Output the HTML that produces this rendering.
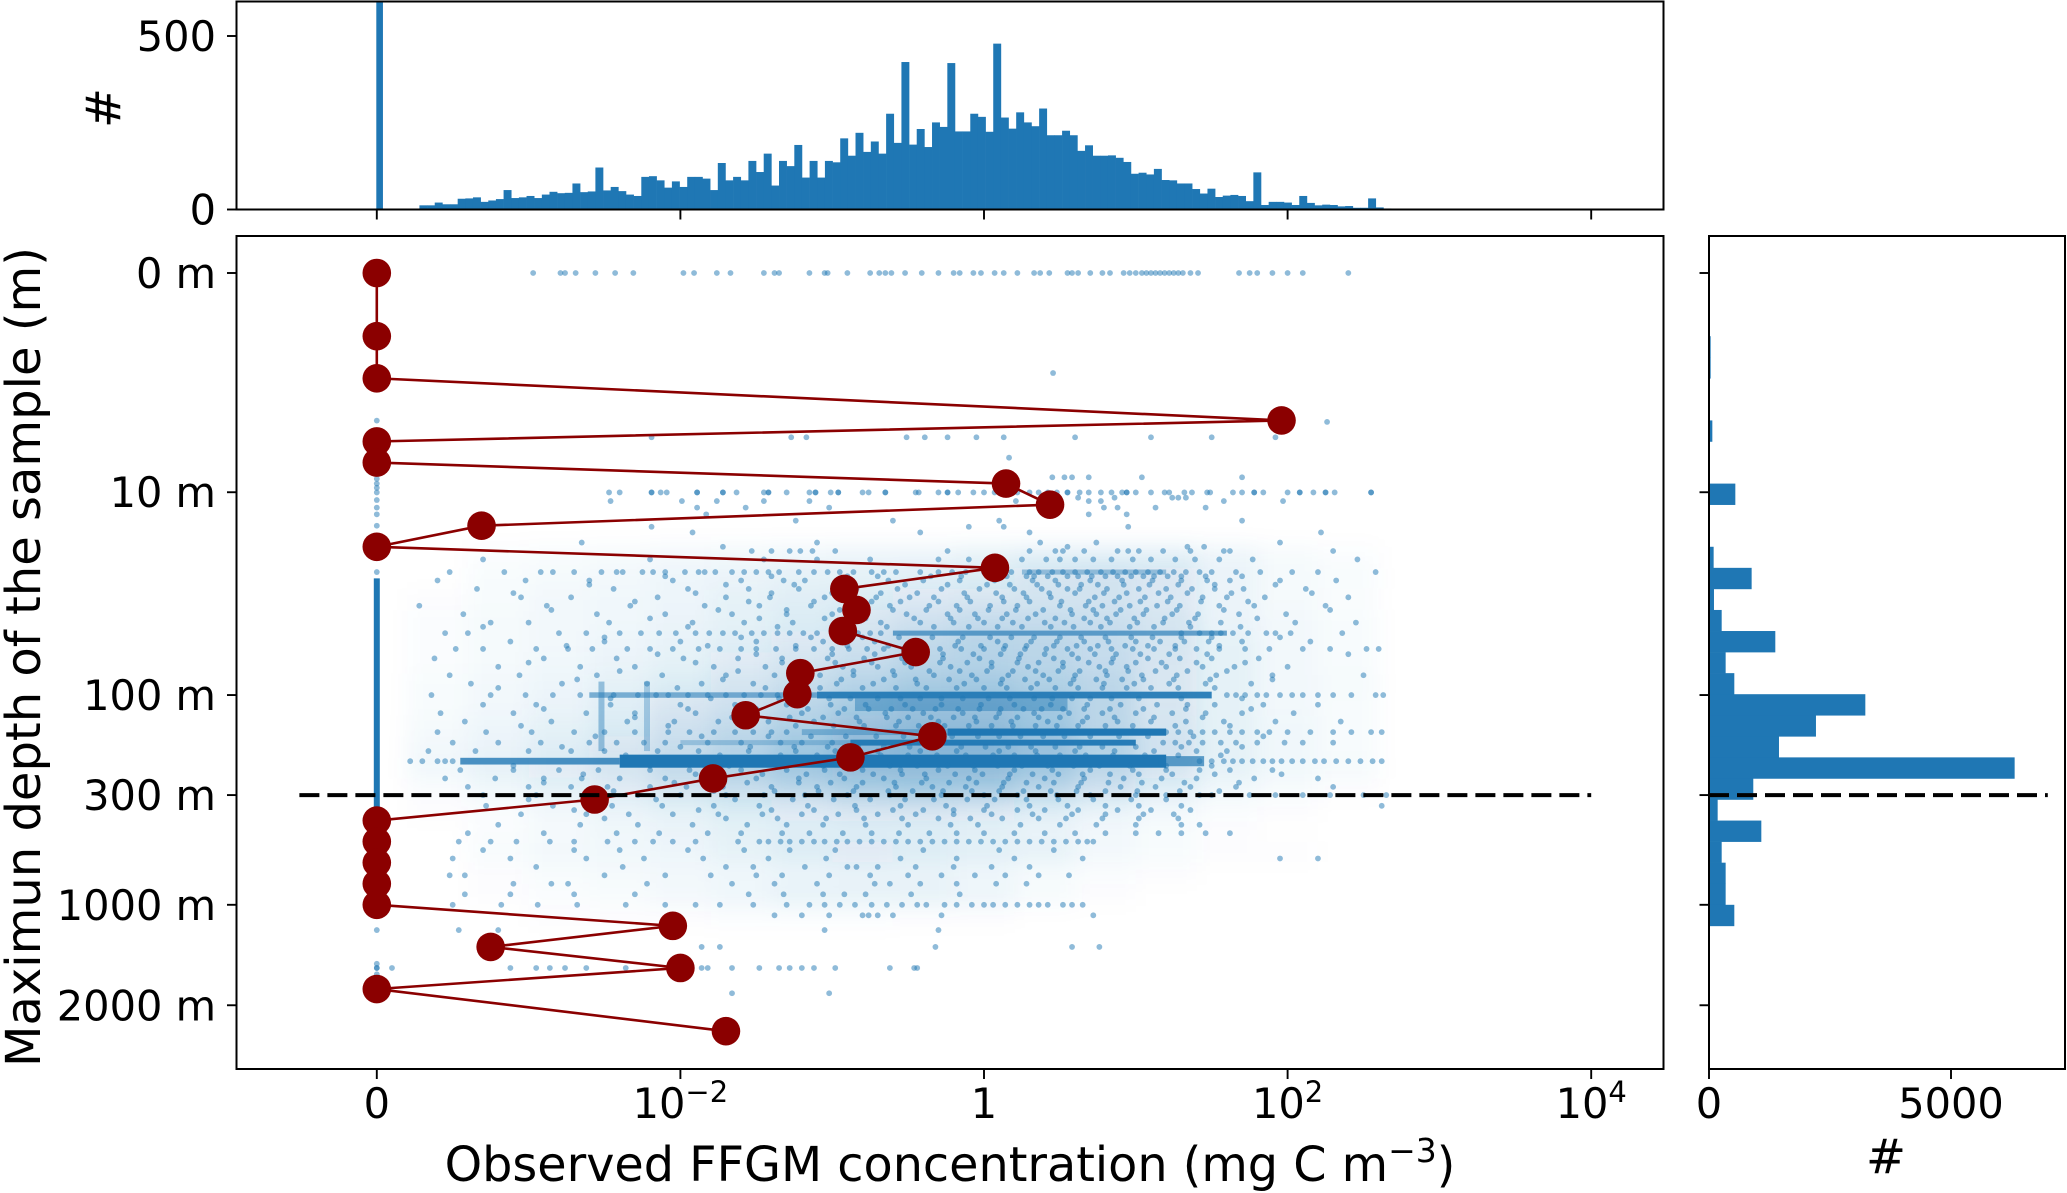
<!DOCTYPE html>
<html lang="en">
<head>
<meta charset="utf-8">
<title>Observed FFGM concentration versus depth</title>
<style>
html,body{margin:0;padding:0;background:#fff;width:2067px;height:1193px;overflow:hidden}
svg{display:block}
text{font-family:"DejaVu Sans","Liberation Sans",sans-serif;fill:#000}
</style>
</head>
<body>
<svg id="chart" xmlns="http://www.w3.org/2000/svg" width="2067" height="1193" viewBox="0 0 2067 1193">
  <defs>
    <clipPath id="clip-top"><rect x="236.5" y="1.5" width="1427" height="208"/></clipPath>
    <clipPath id="clip-main"><rect x="236.5" y="236" width="1427" height="833"/></clipPath>
    <clipPath id="clip-right"><rect x="1709" y="236" width="356" height="833"/></clipPath>
    <filter id="soft" x="-5%" y="-5%" width="110%" height="110%"><feGaussianBlur stdDeviation="11"/></filter>
  </defs>
  <g id="top-bars" clip-path="url(#clip-top)"></g>
  <g clip-path="url(#clip-main)">
    <g id="main-density" filter="url(#soft)"></g>
  </g>
  <g id="main-runs" clip-path="url(#clip-main)"></g>
  <g id="main-dots" clip-path="url(#clip-main)"></g>
  <g id="profile" clip-path="url(#clip-main)"></g>
  <g id="right-bars" clip-path="url(#clip-right)"></g>
  <g id="refs"></g>
  <g id="frames" fill="none" stroke="#000" stroke-width="2">
    <rect x="236.5" y="1.5" width="1427" height="208"/>
    <rect x="236.5" y="236" width="1427" height="833"/>
    <rect x="1709" y="236" width="356" height="833"/>
  </g>
  <g id="ticks" stroke="#000" stroke-width="1.9"></g>
  <g id="tick-labels" font-size="41.5"></g>
  <text x="950" y="1181" font-size="47.7" text-anchor="middle">Observed FFGM concentration (mg C m<tspan dy="-19" font-size="33">−3</tspan><tspan dy="19">)</tspan></text>
  <text transform="translate(40,657) rotate(-90)" font-size="48" text-anchor="middle">Maximun depth of the sample (m)</text>
  <text transform="translate(120,108) rotate(-90)" font-size="48" text-anchor="middle">#</text>
  <text x="1886" y="1173" font-size="48" text-anchor="middle">#</text>
</svg>
<script>
// ---- tick data ----
const xTickLogC = [-4, -2, 0, 2, 4];
const xTickBase = ["0", "10", "1", "10", "10"];
const xTickExp = ["", "−2", "", "2", "4"];
const yTickDepthLog = [0, 1.041, 2.004, 2.479, 3.0, 3.477];
const yTickLabels = ["0 m", "10 m", "100 m", "300 m", "1000 m", "2000 m"];
const topTickCounts = [0, 500];
const rightTickCounts = [0, 5000];

// ---- reference depth ----
const refDepthLog = 2.479;

// ---- concentration histogram (counts per bin, log10 concentration) ----
const histStartLogC = -3.82;
const histBinLogC = 0.0504;
const histZeroCount = 1500;
const histCounts = [1,1,12,12,20,15,15,31,32,35,22,26,30,56,33,35,39,33,43,51,47,48,75,50,52,121,55,65,53,43,39,94,96,84,63,81,65,94,94,89,56,134,84,94,84,140,108,161,69,140,125,186,92,140,92,140,136,205,155,221,166,196,161,276,192,425,187,232,180,251,238,422,225,225,276,267,224,478,265,233,280,251,240,291,214,214,227,214,169,185,155,155,156,149,137,103,106,101,117,85,84,75,75,59,46,60,36,40,42,39,24,107,13,22,22,20,13,39,19,12,14,13,9,10,5,5,32,6,3,1];

// ---- depth histogram (0.1 log10(1+z) bins) ----
const depthBinCounts = [6,0,0,34,34,0,0,69,0,0,544,6,20,96,881,103,262,1370,344,523,3230,2210,1446,6315,915,179,1081,262,344,344,523,0,0,20,0,0];

// ---- example profile ----
const profileDepthLog = [0,.3,.5,.7,.8,.9,1,1.1,1.2,1.3,1.4,1.5,1.6,1.7,1.8,1.9,2,2.1,2.2,2.3,2.4,2.5,2.6,2.7,2.8,2.9,3,3.1,3.2,3.3,3.4,3.6];
const profileLogC = [-4,-4,-4,1.96,-4,-4,.145,.435,-3.31,-4,.072,-.92,-.84,-.93,-.45,-1.21,-1.23,-1.57,-.34,-.88,-1.785,-2.565,-4,-4,-4,-4,-4,-2.05,-3.25,-2,-4,-1.7];

// ---- sample density (rows of depth, columns of log10 concentration) ----
const densityDepths = [1.35,1.45,1.55,1.65,1.75,1.85,1.95,2.05,2.15,2.25,2.35,2.45,2.55,2.65,2.75,2.85,2.95,3.05];
const densityLogC = [-3.6,-3.2,-2.8,-2.4,-2,-1.6,-1.2,-.8,-.4,0,.4,.8,1.2,1.6,2,2.4];
const densityValues = [
[0,.02,.03,.04,.05,.06,.07,.08,.08,.1,.12,.12,.12,.08,.04,.02],
[0,.03,.04,.05,.07,.08,.1,.1,.12,.14,.2,.22,.18,.08,.04,.03],
[.01,.03,.05,.06,.07,.1,.12,.14,.16,.18,.2,.2,.16,.08,.04,.02],
[.02,.04,.05,.06,.08,.1,.14,.18,.22,.26,.26,.24,.2,.08,.05,.03],
[.02,.04,.05,.07,.09,.12,.16,.22,.28,.32,.3,.26,.2,.1,.05,.03],
[.02,.04,.06,.08,.1,.15,.2,.25,.3,.32,.3,.26,.18,.1,.05,.03],
[.03,.05,.07,.1,.14,.2,.25,.32,.38,.4,.35,.3,.18,.1,.05,.04],
[.03,.05,.08,.12,.18,.22,.3,.38,.45,.45,.4,.3,.18,.1,.05,.03],
[.04,.07,.1,.14,.22,.28,.35,.45,.5,.5,.42,.3,.2,.1,.06,.03],
[.05,.08,.12,.18,.25,.32,.42,.52,.55,.55,.48,.35,.22,.1,.06,.03],
[.06,.1,.15,.2,.28,.35,.42,.5,.5,.5,.42,.3,.2,.1,.06,.04],
[.02,.06,.1,.15,.2,.25,.3,.36,.4,.38,.3,.22,.12,.06,.03,.01],
[.01,.02,.05,.08,.1,.14,.15,.18,.18,.16,.12,.08,.05,.02,.01,0],
[0,.02,.04,.06,.08,.1,.12,.12,.12,.1,.08,.05,.03,.01,0,0],
[0,.03,.05,.06,.07,.1,.14,.16,.14,.12,.1,.05,.03,.01,.01,0],
[0,.01,.03,.04,.05,.06,.07,.08,.08,.06,.03,.02,.01,0,0,0],
[0,.01,.02,.03,.05,.07,.1,.1,.1,.08,.04,.01,0,0,0,0],
[0,0,.01,.01,.01,.02,.02,.02,.01,.01,0,0,0,0,0,0]
];

// ---- heavily overplotted sample runs (read as depth, concentration range, spread, density) ----
const runDepthLog = [2.318,2.318,2.318,2.004,2.004,2.05,2.18,2.18,2.23,2.23,1.71,1.42];
const runFromLogC = [-3.45,-2.4,1.15,-2.6,-1.1,-.85,-.24,-1.2,-.88,-2,-.6,.25];
const runToLogC = [-2.4,1.2,1.45,-1.1,1.5,.55,1.2,-.24,1.0,-.88,1.6,1.2];
const runSpreadLog = [.016,.031,.024,.013,.016,.03,.017,.014,.014,.012,.012,.012];
const runDensity = [.8,1,.7,.55,.92,.45,1,.4,.95,.3,.65,.4];
const columnLogC = [-4,-2.52,-2.22];
const columnFromDepth = [1.45,1.94,1.94];
const columnToDepth = [2.63,2.27,2.27];
const columnDensity = [1,.42,.32];

// ---- individually readable samples: depth rows and their log10 concentrations ----
const rowDepthLog = [0,.475,.707,.78,.877,.97,1.042,1.067,1.083,1.114,1.146,1.176,1.205,1.232,1.28,1.3,1.32,1.36,1.42,1.46,1.5,1.54,1.58,1.62,1.66,1.71,1.75,1.785,1.83,1.87,1.91,1.95,2.004,2.05,2.09,2.13,2.18,2.23,2.27,2.318,2.36,2.4,2.44,2.479,2.53,2.57,2.62,2.66,2.7,2.74,2.78,2.82,2.86,2.9,2.95,3,3.05,3.12,3.2,3.3,3.42];
const rowLogC = [
[-2.97,-2.79,-2.76,-2.69,-2.56,-2.43,-2.31,-1.98,-1.91,-1.76,-1.67,-1.45,-1.38,-1.35,-1.15,-1.05,-1.03,-.9,-.75,-.69,-.65,-.61,-.52,-.41,-.3,-.2,-.16,-.07,-.02,.07,.13,.22,.33,.37,.43,.55,.58,.62,.7,.78,.83,.92,.96,1,1.04,1.07,1.1,1.13,1.16,1.19,1.22,1.25,1.28,1.31,1.36,1.41,1.68,1.75,1.8,1.9,2,2.1,2.4],
[.455],
[2.26],
[-2.19,-1.27,-1.17,-.51,-.39,-.24,-.05,.13,.6,1.1,1.5,1.92],
[.165],
[.45,.53,.58,.69,1.04,1.7],
[-2.47,-2.4,-2.19,-2.19,-2.13,-2.09,-1.89,-1.89,-1.72,-1.72,-1.63,-1.45,-1.42,-1.42,-1.3,-1.15,-1.11,-1.11,-1.01,-.96,-.96,-.8,-.76,-.65,-.65,-.45,-.43,-.3,-.24,-.24,-.17,-.07,0,.07,.14,.22,.3,.36,.42,.48,.55,.55,.63,.69,.77,.84,.91,.94,.94,1,1.1,1.19,1.22,1.32,1.37,1.47,1.49,1.64,1.7,1.78,1.78,1.84,2,2.08,2.08,2.17,2.25,2.25,2.31,2.55,2.55],
[.62,.86,1.24,1.28,1.33],
[-2.46,-1.99,-1.76,-1.45,-1.15,.69,.77,1.58,1.97,.21],
[-1.89,-1.57,-1.02,.79,.88,1.13,1.46],
[-1.83,.69,.94,.4],
[-1.24,.1,-.6,1.7],
[-2.19,.13,-.1,.95],
[-1.92,-.42,.3,2.22],
[-2.65,.37,-1.1,.74,1.95],
[-1.72,.55,1.34,1.45],
[-1.53,-1.4,-1.28,-1.21,-1.13,-.98,-.24,.3,.47,.52,.66,.88,.95,1.02,1.18,1.36,1.58,1.62,2.3],
[-3.3,-2.2,-1.45,-1.1,-.75,-.3,-.1,.02,.25,.41,.5,.6,.72,.84,.98,1.1,1.26,1.39,1.55,1.77,2.46],
[-3.52,-3.16,-2.92,-2.84,-2.7,-2.52,-2.42,-2.38,-2.25,-2.18,-2.1,-1.97,-1.88,-1.84,-1.77,-1.66,-1.58,-1.5,-1.42,-1.35,-1.22,-1.12,-1.03,-.95,-.86,-.74,-.66,-.58,-.42,-.3,-.21,-.12,0,.1,.18,.3,.36,.45,.52,.6,.68,.77,.85,.93,1,1.08,1.16,1.25,1.33,1.42,1.5,1.66,1.82,2.03,2.2,2.58],
[-3.6,-3.02,-2.6,-2.05,-1.6,-1.32,-1.18,-.92,-.63,-.4,-.16,.07,.32,.47,.7,.91,1.11,1.3,1.47,1.62,1.95,2.32],
[-3.34,-2.44,-1.95,-1.55,-1.22,-.84,-.57,-.28,-.03,.2,.38,.55,.63,.81,1.02,1.2,1.37,1.52,1.71,2.12],
[-3.05,-2.72,-2.15,-1.7,-1.41,-1.05,-.71,-.49,-.33,-.11,.12,.28,.44,.73,.89,1.06,1.23,1.44,1.6,1.85,2.4],
[-3.72,-2.88,-2.33,-1.84,-1.48,-1.14,-.8,-.62,-.36,-.18,.04,.22,.5,.67,.78,.96,1.14,1.29,1.55,1.78,2.25],
[-3.43,-2.55,-2.1,-1.66,-1.3,-1,-.77,-.51,-.24,-.06,.15,.34,.58,.74,.87,1.05,1.24,1.41,1.68,1.99],
[-3.25,-3,-2.47,-1.92,-1.58,-1.26,-.9,-.68,-.42,-.2,0,.19,.4,.53,.7,.83,1.01,1.18,1.35,1.56,2.05,2.45],
[-3.55,-3.4,-2.8,-2.62,-2.4,-2.26,-2.14,-2.03,-1.9,-1.81,-1.72,-1.64,-1.53,-1.45,-1.36,-1.28,-1.19,-1.1,-1,-.92,-.83,-.75,-.68,1.3,1.42,1.5,1.56,1.64,1.74,1.86,1.92,2.02,2.36],
[-3.12,-2.5,-2,-1.5,-1.06,-.72,-.46,-.17,.09,.31,.48,.66,.82,1,1.16,1.32,1.48,1.7,2.15],
[-3.48,-3.3,-2.95,-2.74,-2.58,-2.35,-2.2,-2.05,-1.88,-1.74,-1.6,-1.5,-1.37,-1.24,-1.12,-1,-.89,-.77,-.66,-.53,-.41,-.29,-.15,0,.13,.27,.41,.55,.7,.84,.98,1.12,1.26,1.4,1.55,1.72,1.88,2.1,2.28,2.52,2.6],
[-3.62,-2.9,-2.42,-1.98,-1.62,-1.33,-1.03,-.79,-.54,-.27,-.03,.23,.46,.62,.85,1.08,1.29,1.5,1.81],
[-3.2,-2.66,-2.3,-1.78,-1.44,-1.16,-.93,-.7,-.48,-.22,.05,.29,.52,.76,.94,1.2,1.44,1.65,2],
[-3.52,-3.06,-2.55,-2.12,-1.7,-1.38,-1.08,-.86,-.59,-.33,-.08,.16,.39,.6,.81,1.04,1.27,1.53,1.9,2.5],
[-3.38,-2.78,-2.22,-1.86,-1.52,-1.27,-.97,-.73,-.44,-.13,.11,.35,.57,.79,.99,1.22,1.46,1.76],
[-3.64,-3.25,-3.02,-2.84,-2.66,-2.44,-2.28,-2.16,-2.08,-1.95,-1.82,-1.7,-1.58,-1.47,-1.36,-1.25,-1.15,1.6,1.66,1.72,1.8,1.86,1.95,2.03,2.1,2.2,2.3,2.42,2.58,2.63],
[-3.3,-2.95,-2.46,-2,-1.64,-1.3,-1.01,-.78,-.52,-.28,-.02,.2,.44,.68,.9,1.14,1.34,1.52,1.84,2.2],
[-3.58,-3.1,-2.62,-2.3,-1.9,-1.55,-1.2,-.96,-.65,-.4,-.14,.1,.33,.56,.78,1,1.24,1.46,1.7,2.04],
[-3.42,-2.85,-2.35,-2.04,-1.75,-1.42,-1.12,-.82,-.56,-.3,-.05,.18,.42,.65,.88,1.1,1.33,1.58,1.92,2.35],
[-3.6,-3.28,-2.98,-2.7,-2.5,-2.3,-2.08,-1.94,-1.78,-1.64,-1.52,-1.4,-1.3,1.2,1.28,1.36,1.44,1.52,1.62,1.7,1.8,1.88,2,2.15,2.3,2.42,2.55,2.62],
[-3.5,-3.2,-2.92,-2.6,-2.42,-2.24,-2.1,-1.82,-1.6,-1.34,-1.2,-1,1.18,1.26,1.35,1.44,1.56,1.66,1.8,1.98,2.1,2.3],
[-3.66,-3.35,-3,-2.72,-2.5,-2.15,-1.88,-1.55,-1.24,-.98,-.7,-.42,-.18,.1,.34,.6,.86,1.12,1.4,1.6],
[-3.78,-3.7,-3.6,-3.55,-3.5,1.42,1.5,1.58,1.64,1.7,1.77,1.84,1.9,1.96,2.03,2.1,2.18,2.24,2.32,2.4,2.48,2.56,2.62],
[-3.45,-3.1,-2.8,-2.54,-2.2,-1.94,-1.6,-1.3,-1.05,-.8,-.55,-.3,-.06,.2,.45,.7,.98,1.2,1.42,1.62,1.9],
[-3.55,-3.22,-2.9,-2.65,-2.4,-2.1,-1.8,-1.5,-1.22,-.92,-.66,-.38,-.1,.16,.4,.66,.92,1.17,1.4,1.78,2.2],
[-3.4,-3,-2.72,-2.48,-2.2,-1.96,-1.72,-1.4,-1.1,-.84,-.58,-.34,-.12,.12,.36,.62,.9,1.13,1.36,1.66,2.3],
[-3.3,-2.95,-2.6,-2.28,-2,-1.7,-1.45,-1.18,-.9,-.62,-.28,0,.22,.48,.7,1,1.2,1.42,1.5,1.75,1.92,2.1,2.28,2.5,2.65],
[-3.28,-2.84,-2.45,-2.12,-1.78,-1.48,-1.16,-.85,-.55,-.25,.02,.3,.55,.8,1.02,1.3,2.62],
[-3.05,-2.62,-2.34,-2.05,-1.75,-1.46,-1.2,-.96,-.7,-.45,-.2,.05,.32,.58,.8,1.05,1.25],
[-3.2,-2.66,-2.28,-1.92,-1.56,-1.3,-1.06,-.78,-.5,-.22,-.04,.24,.5,.74,1,1.3,1.42],
[-3.4,-2.9,-2.42,-2.14,-1.82,-1.6,-1.33,-1.15,-.93,-.74,-.56,-.36,-.18,0,.2,.4,.6,.8,1,1.15,1.3,1.46,1.62],
[-3.46,-3.25,-3.08,-2.86,-2.7,-2.48,-2.3,-2.18,-2.05,-1.9,-1.62,-1.48,-1.42,-1.34,-1.28,-1.2,-1.12,-1.05,-.97,-.9,-.82,-.74,-.66,-.58,-.5,-.42,-.34,-.26,-.18,-.1,-.02,.06,.14,.22,.3,.38,.46,.54,.62,.68,.72],
[-3.3,-2.7,-2.4,-1.95,-1.58,-1.28,-.98,-.4,.1,.46],
[-3.5,-3.12,-2.62,-2.24,-1.85,-1.42,-1.04,-.55,-.18,.2,.65,1.95,2.2],
[-2.95,-2.38,-1.7,-1.52,-1.18,-.9,-.84,-.7,-.45,-.2,.05,.3],
[-3.52,-3.42,-2.5,-2.1,-1.8,-1.5,-1.33,-1.02,-.75,-.5,-.28,-.06,.14,.36,.56],
[-3.1,-2.85,-2.74,-2.22,-1.66,-1.38,-1.1,-.72,-.62,-.42,-.18,.08,.28],
[-3.42,-3.12,-2.7,-2.3,-1.55,-1.32,-1.06,-.92,-.78,-.48,-.16],
[-3.5,-3.18,-2.94,-2.68,-2.36,-2.1,-1.9,-1.74,-1.52,-1.3,-1.15,-1.05,-.95,-.85,-.74,-.64,-.54,-.44,-.38,-.26,-.18,-.08,0,.06,.14,.22,.3,.36,.42,.52,.58,.65],
[-1.2,-1.38,-.7,-.8,-.6,-1.02,-.28,-.76,.72],
[-3.46,-3.2,-1.05,-.3],
[-1.86,-1.74,-.32,.58,.76],
[-4,-3.9,-3.12,-2.95,-2.86,-2.76,-2.62,-2.36,-1.98,-1.86,-1.82,-1.66,-1.48,-1.35,-1.28,-1.2,-1.12,-.98,-.62,-.46,-.44],
[-1.02,-1.66],
[-1.15]
];

// ---- further readable samples in the crowded centre of the cloud ----
const extraDepthLog = [1.44,1.48,1.52,1.56,1.6,1.64,1.68,1.73,1.77,1.81,1.85,1.89,1.93,1.97,2.02,2.07,2.11,2.15,2.2,2.25,2.29,2.34,2.38,2.42,2.46,2.5,2.55,2.59];
const extraLogC = [
[-2.1,-1.4,-.9,-.7,-.35,-.15,.05,.15,.28,.33,.42,.55,.62,.71,.8,.88,.97,1.05,1.12,1.21,1.3,1.46,1.7],
[-2.6,-1.7,-1.25,-.85,-.52,-.24,.02,.17,.35,.49,.64,.75,.92,1.09,1.28,1.52,1.92],
[-3.1,-1.9,-1.4,-1,-.68,-.44,-.13,.08,.26,.43,.6,.79,.94,1.15,1.34,1.63,2.16],
[-2.3,-1.55,-1.12,-.74,-.55,-.3,-.09,.13,.3,.51,.69,.86,1.03,1.21,1.43,1.74],
[-2.85,-1.75,-1.3,-.95,-.6,-.38,-.16,.03,.21,.39,.57,.72,.9,1.07,1.27,1.58,2.28],
[-2.2,-1.48,-1.05,-.78,-.46,-.22,-.04,.12,.29,.47,.66,.81,.99,1.19,1.39,1.8],
[-3.3,-1.95,-1.36,-.88,-.64,-.33,-.1,.09,.25,.44,.59,.77,.96,1.12,1.36,1.69],
[-2.5,-1.6,-1.14,-.8,-.56,-.34,-.14,.04,.18,.33,.5,.64,.8,.97,1.11,1.3,1.5,1.95],
[-2.75,-1.82,-1.24,-.9,-.63,-.41,-.19,-.02,.14,.28,.46,.61,.75,.93,1.08,1.26,1.55],
[-2.15,-1.5,-1,-.72,-.5,-.27,-.07,.11,.24,.4,.58,.73,.87,1.03,1.22,1.47,2.4],
[-3,-1.9,-1.33,-.98,-.74,-.52,-.29,-.11,.05,.22,.36,.52,.69,.84,1,1.17,1.4,1.72],
[-2.4,-1.62,-1.18,-.86,-.6,-.36,-.16,.02,.19,.34,.49,.63,.8,.95,1.13,1.34,1.6],
[-2.68,-1.72,-1.26,-.94,-.66,-.45,-.23,-.05,.12,.27,.43,.59,.74,.91,1.05,1.25,1.49,1.9],
[-3.2,-2.02,-1.44,-1.08,-.8,-.58,-.38,-.18,0,.15,.31,.47,.62,.78,.94,1.1,1.28,1.52],
[-2.46,-1.8,-1.35,-1.02,-.88,-.7,-.55,-.42,-.28,-.14,.03,.17,.33,.45,.58,.7,.84,1.02,1.3,1.7],
[-2.9,-1.95,-1.5,-1.16,-.92,-.76,-.61,-.47,-.32,-.17,-.03,.11,.26,.38,.52,.66,.83,1.05,1.33,1.76],
[-2.3,-1.66,-1.28,-1.06,-.84,-.64,-.5,-.35,-.2,-.06,.08,.22,.36,.5,.68,.86,1.12,1.44],
[-3.05,-2.08,-1.6,-1.24,-.99,-.79,-.58,-.43,-.26,-.1,.05,.19,.34,.48,.62,.8,.98,1.26,1.62],
[-2.56,-1.86,-1.42,-1.14,-.91,-.71,-.53,-.37,-.21,-.04,.1,.24,.39,.53,.7,.89,1.08,1.38,1.84],
[-2.78,-2,-1.54,-1.25,-1.03,-.83,-.66,-.49,-.33,-.15,.01,.16,.31,.47,.63,.78,1,1.3,1.7],
[-2.36,-1.74,-1.34,-1.1,-.87,-.68,-.5,-.31,-.12,.06,.2,.35,.5,.67,.85,1.06,1.28,1.56],
[-3.1,-2.2,-1.68,-1.32,-1.06,-.82,-.62,-.44,-.24,-.07,.09,.25,.42,.59,.76,.96,1.2,1.5],
[-2.64,-1.9,-1.46,-1.17,-.95,-.73,-.54,-.39,-.19,-.01,.17,.32,.49,.65,.83,1.02,1.24,1.52,1.96],
[-2.9,-2.04,-1.56,-1.22,-1.01,-.8,-.59,-.41,-.23,-.05,.13,.28,.46,.64,.82,1.04,1.32,1.68],
[-2.44,-1.78,-1.38,-1.09,-.86,-.63,-.47,-.27,-.08,.1,.26,.44,.61,.8,1.01,1.29,1.55],
[-3,-2.16,-1.64,-1.26,-.99,-.75,-.52,-.33,-.11,.07,.28,.49,.72,.97,1.2],
[-2.7,-1.88,-1.4,-1.12,-.84,-.6,-.4,-.2,0,.22,.4,.62,.88,1.1,1.36],
[-2.5,-1.7,-1.36,-1.04,-.79,-.54,-.3,-.09,.12,.36,.54,.78,1.02,1.28]
];

const zeroDots = [.701,.977,1,1.02,1.042,1.078,1.114,1.146,1.2,1.42,3.12,3.28,3.3,3.33];

// ---- axis functions ----
function xOf(logC){ return 984 + 151.8 * logC; }
function yOf(depthLog){ return 273 + 210.6 * depthLog; }
function topY(count){ return 209.5 - 0.347 * count; }
function rightX(count){ return 1709 + 0.0484 * count; }

const NS = 'http://www.w3.org/2000/svg';
function mk(tag, parentId){
  const el = document.createElementNS(NS, tag);
  document.getElementById(parentId).appendChild(el);
  return el;
}
function put(el, props){
  for (const k in props) el.setAttribute(k, props[k]);
}

// top histogram
(function(){
  const binPx = histBinLogC * 151.8;
  const z = mk('rect', 'top-bars');
  put(z, {x: xOf(-4) - 0.5, y: topY(histZeroCount), width: binPx - 1, height: 209.5 - topY(histZeroCount), fill: '#1f77b4'});
  
  
  histCounts.forEach(function(c, i){
    const r = mk('rect', 'top-bars');
    put(r, {x: xOf(histStartLogC + i * histBinLogC), y: topY(c), width: binPx + 0.3, height: 209.5 - topY(c), fill: '#1f77b4'});
    
    
  });
})();

// density cloud
densityDepths.forEach(function(d, i){
  densityLogC.forEach(function(c, j){
    const v = densityValues[i][j];
    if (!v) return;
    const r = mk('rect', 'main-density');
    put(r, {x: xOf(c - 0.2), y: yOf(d - 0.05), width: xOf(c + 0.2) - xOf(c - 0.2), height: yOf(d + 0.05) - yOf(d - 0.05), fill: '#1f77b4', 'fill-opacity': v});
    
    
  });
});

// dense runs
runDepthLog.forEach(function(d, i){
  const r = mk('rect', 'main-runs');
  put(r, {x: xOf(runFromLogC[i]), y: yOf(d - runSpreadLog[i]), width: xOf(runToLogC[i]) - xOf(runFromLogC[i]), height: yOf(d + runSpreadLog[i]) - yOf(d - runSpreadLog[i]), fill: '#1f77b4', 'fill-opacity': runDensity[i]});
  
  
});
columnLogC.forEach(function(c, i){
  const r = mk('rect', 'main-runs');
  put(r, {x: xOf(c) - 3, y: yOf(columnFromDepth[i]), width: 6, height: yOf(columnToDepth[i]) - yOf(columnFromDepth[i]), fill: '#1f77b4', 'fill-opacity': columnDensity[i]});
  
  
});

// scatter
function dot(logC, depthLog){
  const c = mk('circle', 'main-dots');
  put(c, {cx: xOf(logC), cy: yOf(depthLog), r: 2.9, fill: '#1f77b4', 'fill-opacity': 0.5});
  
  
}
rowDepthLog.forEach(function(d, i){
  rowLogC[i].forEach(function(v){ dot(v, d); });
});
extraDepthLog.forEach(function(d, i){
  extraLogC[i].forEach(function(v){ dot(v, d); });
});
zeroDots.forEach(function(d){ dot(-4, d); });

// profile line and markers
(function(){
  const pts = profileDepthLog.map(function(d, i){ return xOf(profileLogC[i]) + ',' + yOf(d); }).join(' ');
  const l = mk('polyline', 'profile');
  put(l, {points: pts, fill: 'none', stroke: '#8b0000', 'stroke-width': 2.6});
  
  
  profileDepthLog.forEach(function(d, i){
    const c = mk('circle', 'profile');
    put(c, {cx: xOf(profileLogC[i]), cy: yOf(d), r: 14.3, fill: '#8b0000'});
    
    
  });
})();

// right histogram
depthBinCounts.forEach(function(c, k){
  if (!c) return;
  const r = mk('rect', 'right-bars');
  put(r, {x: 1709, y: yOf(k * 0.1), width: rightX(c) - 1709, height: yOf((k + 1) * 0.1) - yOf(k * 0.1) + 0.3, fill: '#1f77b4'});
  
  
});

// reference lines
(function(){
  const a = mk('line', 'refs');
  put(a, {x1: xOf(-4.51), x2: xOf(4), y1: yOf(refDepthLog), y2: yOf(refDepthLog), stroke: '#000', 'stroke-width': 4, 'stroke-dasharray': '20 8'});
  
  
  const b = mk('line', 'refs');
  put(b, {x1: rightX(0), x2: rightX(7000), y1: yOf(refDepthLog), y2: yOf(refDepthLog), stroke: '#000', 'stroke-width': 4, 'stroke-dasharray': '20 8'});
  
  
})();

// ticks and labels
function tick(x1, y1, x2, y2){
  const t = mk('line', 'ticks');
  put(t, {x1: x1, y1: y1, x2: x2, y2: y2});
  
  
}
function label(x, y, anchor, txt, exp){
  const t = mk('text', 'tick-labels');
  put(t, {x: x, y: y, 'text-anchor': anchor});
  t.textContent = txt;
  if (exp) {
    const s = document.createElementNS(NS, 'tspan');
    put(s, {dy: -16, 'font-size': 29});
    s.textContent = exp;
    t.appendChild(s);
  }
  
  
}
xTickLogC.forEach(function(v, i){
  const x = xOf(v);
  tick(x, 209.5, x, 219.5);
  tick(x, 1069, x, 1079);
  label(x, 1118, 'middle', xTickBase[i], xTickExp[i]);
});
yTickDepthLog.forEach(function(d, i){
  const y = yOf(d);
  tick(227, y, 236.5, y);
  tick(1699.5, y, 1709, y);
  label(216, y + 15, 'end', yTickLabels[i]);
});
topTickCounts.forEach(function(c){
  const y = topY(c);
  tick(227, y, 236.5, y);
  label(216, y + 15, 'end', String(c));
});
rightTickCounts.forEach(function(c){
  const x = rightX(c);
  tick(x, 1069, x, 1079);
  label(x, 1118, 'middle', String(c));
});
</script>
</body>
</html>
